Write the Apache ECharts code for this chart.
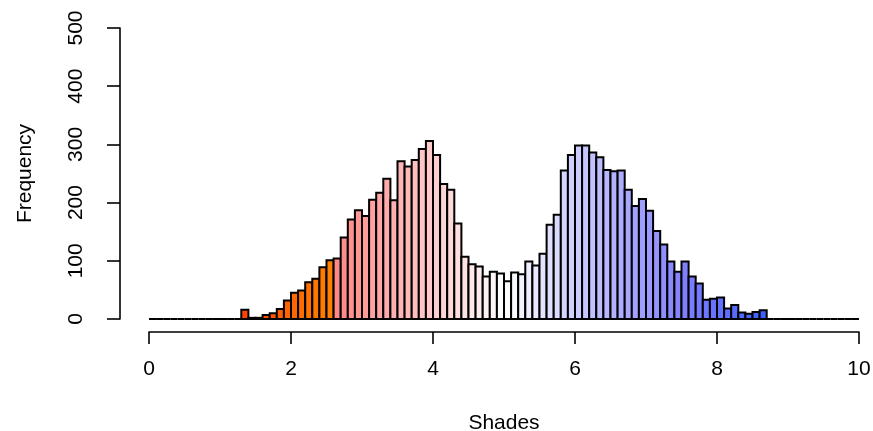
<!DOCTYPE html>
<html>
<head>
<meta charset="utf-8">
<script src="https://cdn.jsdelivr.net/npm/echarts@6/dist/echarts.min.js"></script>
<style>
html,body{margin:0;padding:0;background:#fff;}
#chart{width:873px;height:431px;}
</style>
</head>
<body>
<div id="chart"></div>
<script>
// Histogram bins: start at 0, width 0.1, 100 bins up to 10
const binStart = 0;
const binWidth = 0.1;
const counts = [
  0,0,0,0,0,0,0,0,0,0,0,0,0,            // 0.0 - 1.2
  16,2,2,7,10,17,32,45,49,63,69,89,101, // 1.3 - 2.5
  104,140,171,187,177,205,217,241,204,271, // 2.6 - 3.5
  262,273,292,306,282,232,222,164,107,94,  // 3.6 - 4.5
  90,73,81,78,65,80,77,99,92,112,          // 4.6 - 5.5
  162,179,255,282,298,298,286,278,256,254, // 5.6 - 6.5
  255,222,194,206,186,151,128,99,81,99,    // 6.6 - 7.5
  73,61,33,35,37,18,24,11,9,12,            // 7.6 - 8.5
  15,                                      // 8.6
  0,0,0,0,0,0,0,0,0,0,0,0,0                // 8.7 - 9.9
];
const xTicks = [0, 2, 4, 6, 8, 10];
const yTicks = [0, 100, 200, 300, 400, 500];

function lerp(a, b, t) { return Math.round(a + (b - a) * t); }
function mix(c1, c2, t) {
  t = Math.max(0, Math.min(1, t));
  return 'rgb(' + lerp(c1[0], c2[0], t) + ',' + lerp(c1[1], c2[1], t) + ',' + lerp(c1[2], c2[2], t) + ')';
}
function shade(mid) {
  if (mid < 2.6) {
    return mix([255, 69, 0], [255, 128, 0], (mid - 1.35) / 1.2);
  }
  if (mid < 5.0) {
    return mix([255, 0, 0], [255, 255, 255], mid / 5.0);
  }
  if (mid < 7.55) {
    return mix([255, 255, 255], [128, 128, 255], (mid - 5.0) / 2.55);
  }
  return mix([128, 128, 255], [62, 96, 255], (mid - 7.55) / 1.1);
}

const bins = counts.map((c, i) => {
  const s = +(binStart + i * binWidth).toFixed(2);
  const e = +(binStart + (i + 1) * binWidth).toFixed(2);
  return [s, e, c];
});

const chart = echarts.init(document.getElementById('chart'), null, {renderer: 'canvas'});
const font = 'Liberation Sans, Arial, Helvetica, sans-serif';
chart.setOption({
  animation: false,
  backgroundColor: '#fff',
  grid: {left: 149, right: 14, top: 28, bottom: 112, containLabel: false, outerBoundsMode: 'none'},
  xAxis: {
    type: 'value', min: 0, max: 10, interval: 2,
    offset: 13,
    name: 'Shades', nameLocation: 'middle', nameGap: 81,
    nameTextStyle: {color: '#000', fontSize: 21, fontFamily: font},
    axisLine: {show: true, onZero: false, lineStyle: {color: '#000', width: 1.6}},
    axisTick: {show: true, length: 12, lineStyle: {color: '#000', width: 1.6}},
    axisLabel: {color: '#000', fontSize: 21, fontFamily: font, margin: 27,
      formatter: v => xTicks.indexOf(v) >= 0 ? String(v) : ''},
    splitLine: {show: false}
  },
  yAxis: {
    type: 'value', min: 0, max: 500, interval: 100,
    offset: 29,
    name: 'Frequency', nameLocation: 'middle', nameGap: 84, nameRotate: 90,
    nameTextStyle: {color: '#000', fontSize: 21, fontFamily: font},
    axisLine: {show: true, onZero: false, lineStyle: {color: '#000', width: 1.6}},
    axisTick: {show: true, length: 13, lineStyle: {color: '#000', width: 1.6}},
    axisLabel: {color: '#000', fontSize: 21, fontFamily: font, rotate: 90, margin: 33,
      formatter: v => yTicks.indexOf(v) >= 0 ? String(v) : ''},
    splitLine: {show: false}
  },
  series: [{
    type: 'custom',
    data: bins,
    clip: false,
    renderItem: function (params, api) {
      const s = api.value(0), e = api.value(1), c = api.value(2);
      const p0 = api.coord([s, 0]);
      const p1 = api.coord([e, c]);
      return {
        type: 'rect',
        shape: {x: p0[0], y: p1[1], width: p1[0] - p0[0], height: p0[1] - p1[1]},
        style: {fill: shade((s + e) / 2), stroke: '#000', lineWidth: 2}
      };
    }
  }]
});
</script>
</body>
</html>
